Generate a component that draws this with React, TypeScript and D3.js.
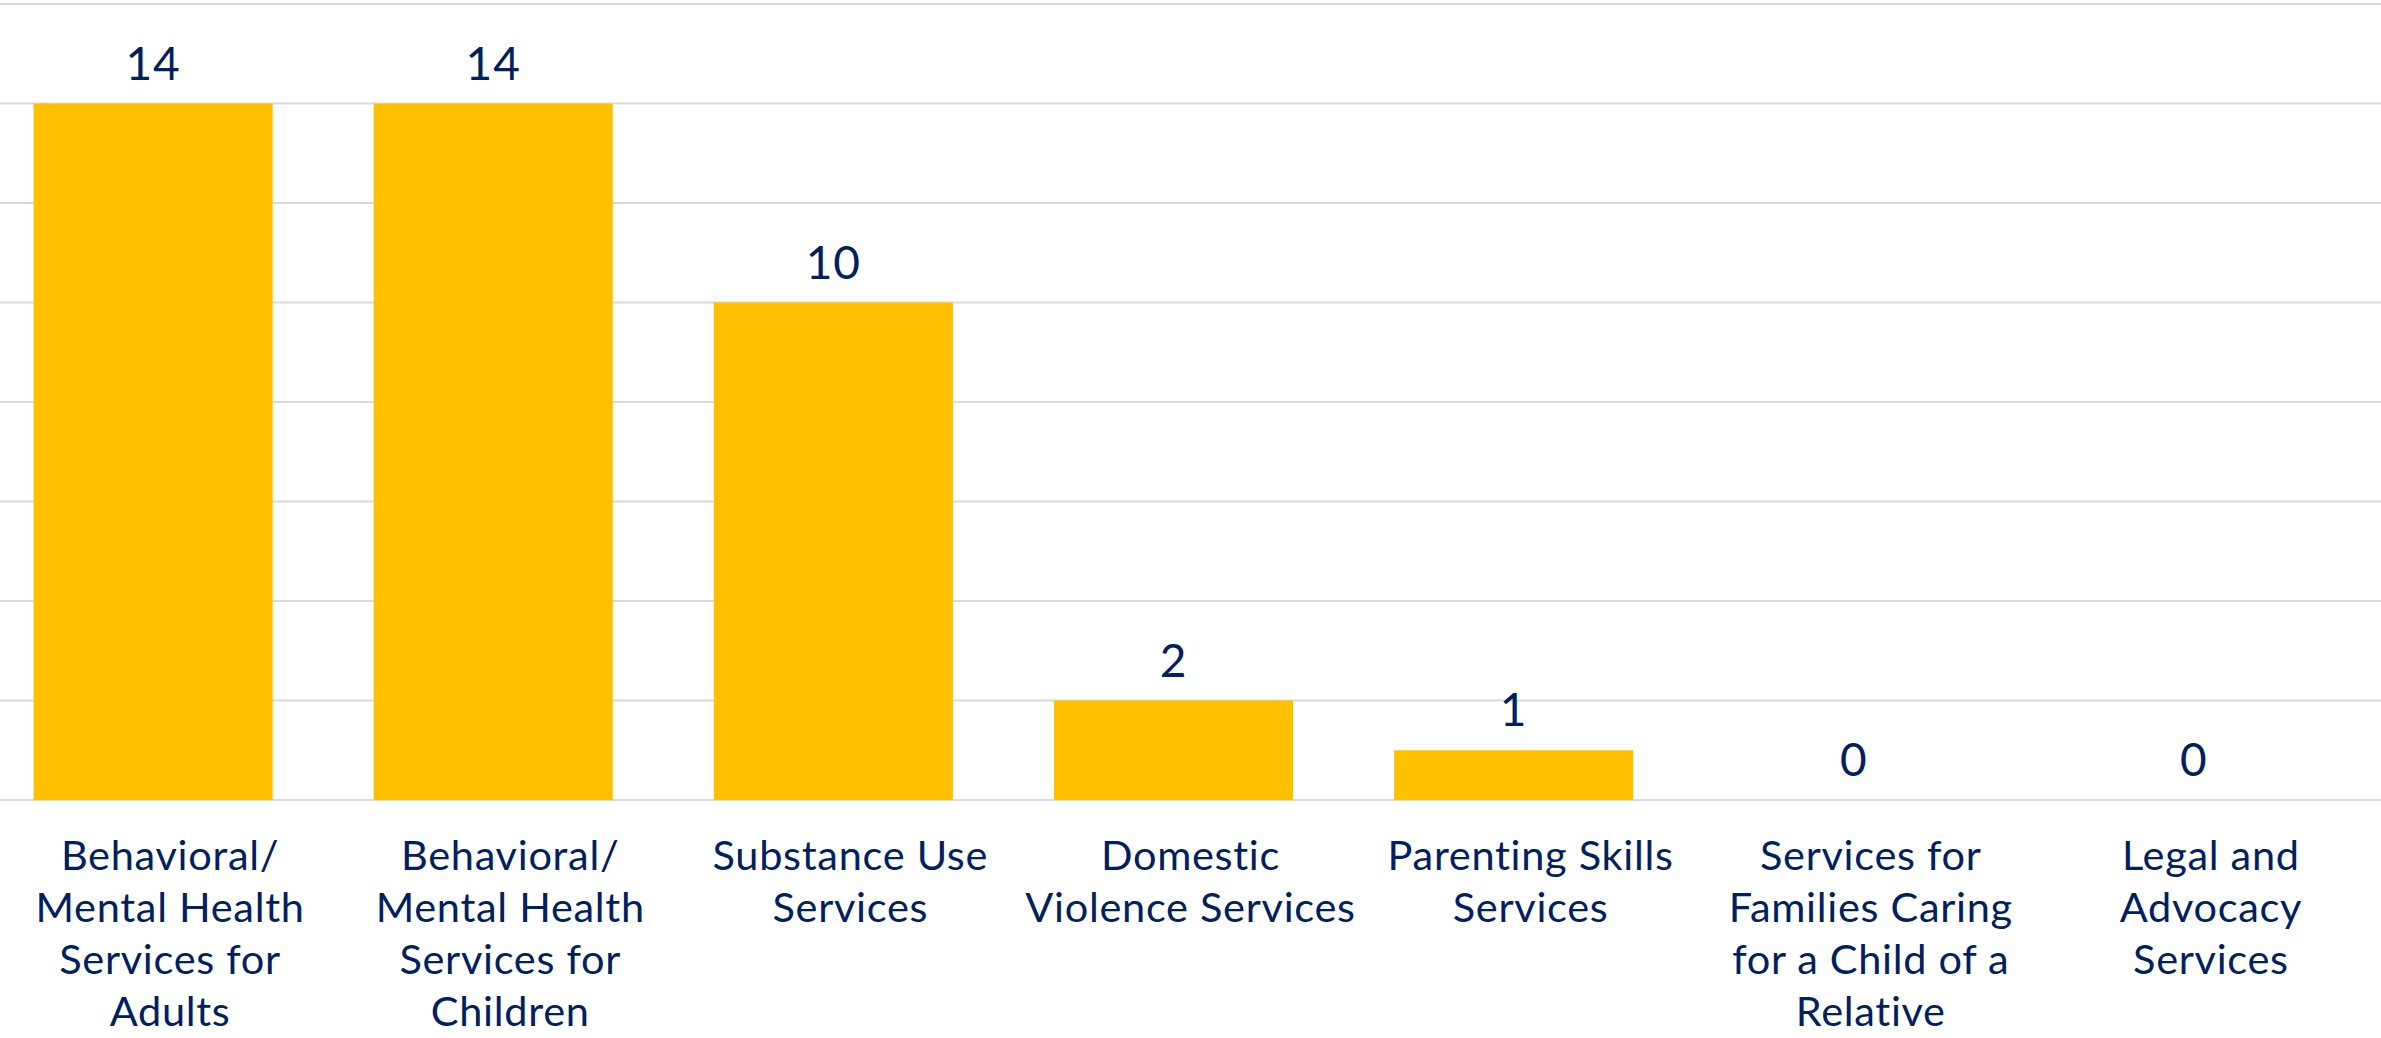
import React from "react";
import * as d3 from "d3";

const categories: string[][] = [
  ["Behavioral/", "Mental Health", "Services for", "Adults"],
  ["Behavioral/", "Mental Health", "Services for", "Children"],
  ["Substance Use", "Services"],
  ["Domestic", "Violence Services"],
  ["Parenting Skills", "Services"],
  ["Services for", "Families Caring", "for a Child of a", "Relative"],
  ["Legal and", "Advocacy", "Services"],
];
const values: number[] = [14, 14, 10, 2, 1, 0, 0];
const yTicks: number[] = [0, 2, 4, 6, 8, 10, 12, 14, 16];

const W = 2381;
const H = 1038;
const FONT = "Futura, 'Century Gothic', Lato, sans-serif";
const NAVY = "#002060";

export default function App() {
  const ids = categories.map((_, i) => String(i));
  // bars
  const x = d3
    .scaleBand<string>()
    .domain(ids)
    .range([-17, W - 17])
    .paddingInner(0.297)
    .paddingOuter(0.1485);
  // category label cells
  const xCat = d3.scaleBand<string>().domain(ids).range([0, W]);
  const y = d3.scaleLinear().domain([0, 16]).range([800, 4]);

  return (
    <svg
      width={W}
      height={H}
      style={{ position: "absolute", left: 0, top: 0, background: "#fff" }}
      fontFamily={FONT}
    >
      <rect x={0} y={0} width={W} height={H} fill="#ffffff" />
      {yTicks.map((t) => (
        <line
          key={t}
          x1={0}
          x2={W}
          y1={y(t)}
          y2={y(t)}
          stroke="#d9d9d9"
          strokeWidth={2}
        />
      ))}
      {values.map((v, i) => (
        <rect
          key={i}
          x={x(String(i))}
          y={y(v)}
          width={x.bandwidth()}
          height={y(0) - y(v)}
          fill="#FFC000"
        />
      ))}
      {values.map((v, i) => (
        <text
          key={i}
          x={(x(String(i)) as number) + x.bandwidth() / 2}
          y={y(v) - 24}
          textAnchor="middle"
          fontSize={46}
          letterSpacing={1}
          fill={NAVY}
        >
          {v}
        </text>
      ))}
      {categories.map((lines, i) => {
        const cx = (xCat(String(i)) as number) + xCat.bandwidth() / 2;
        return (
          <text
            key={i}
            x={cx}
            y={870}
            textAnchor="middle"
            fontSize={41.5}
            letterSpacing={0.7}
            fill={NAVY}
          >
            {lines.map((ln, j) => (
              <tspan key={j} x={cx} y={870 + j * 52}>
                {ln}
              </tspan>
            ))}
          </text>
        );
      })}
    </svg>
  );
}
